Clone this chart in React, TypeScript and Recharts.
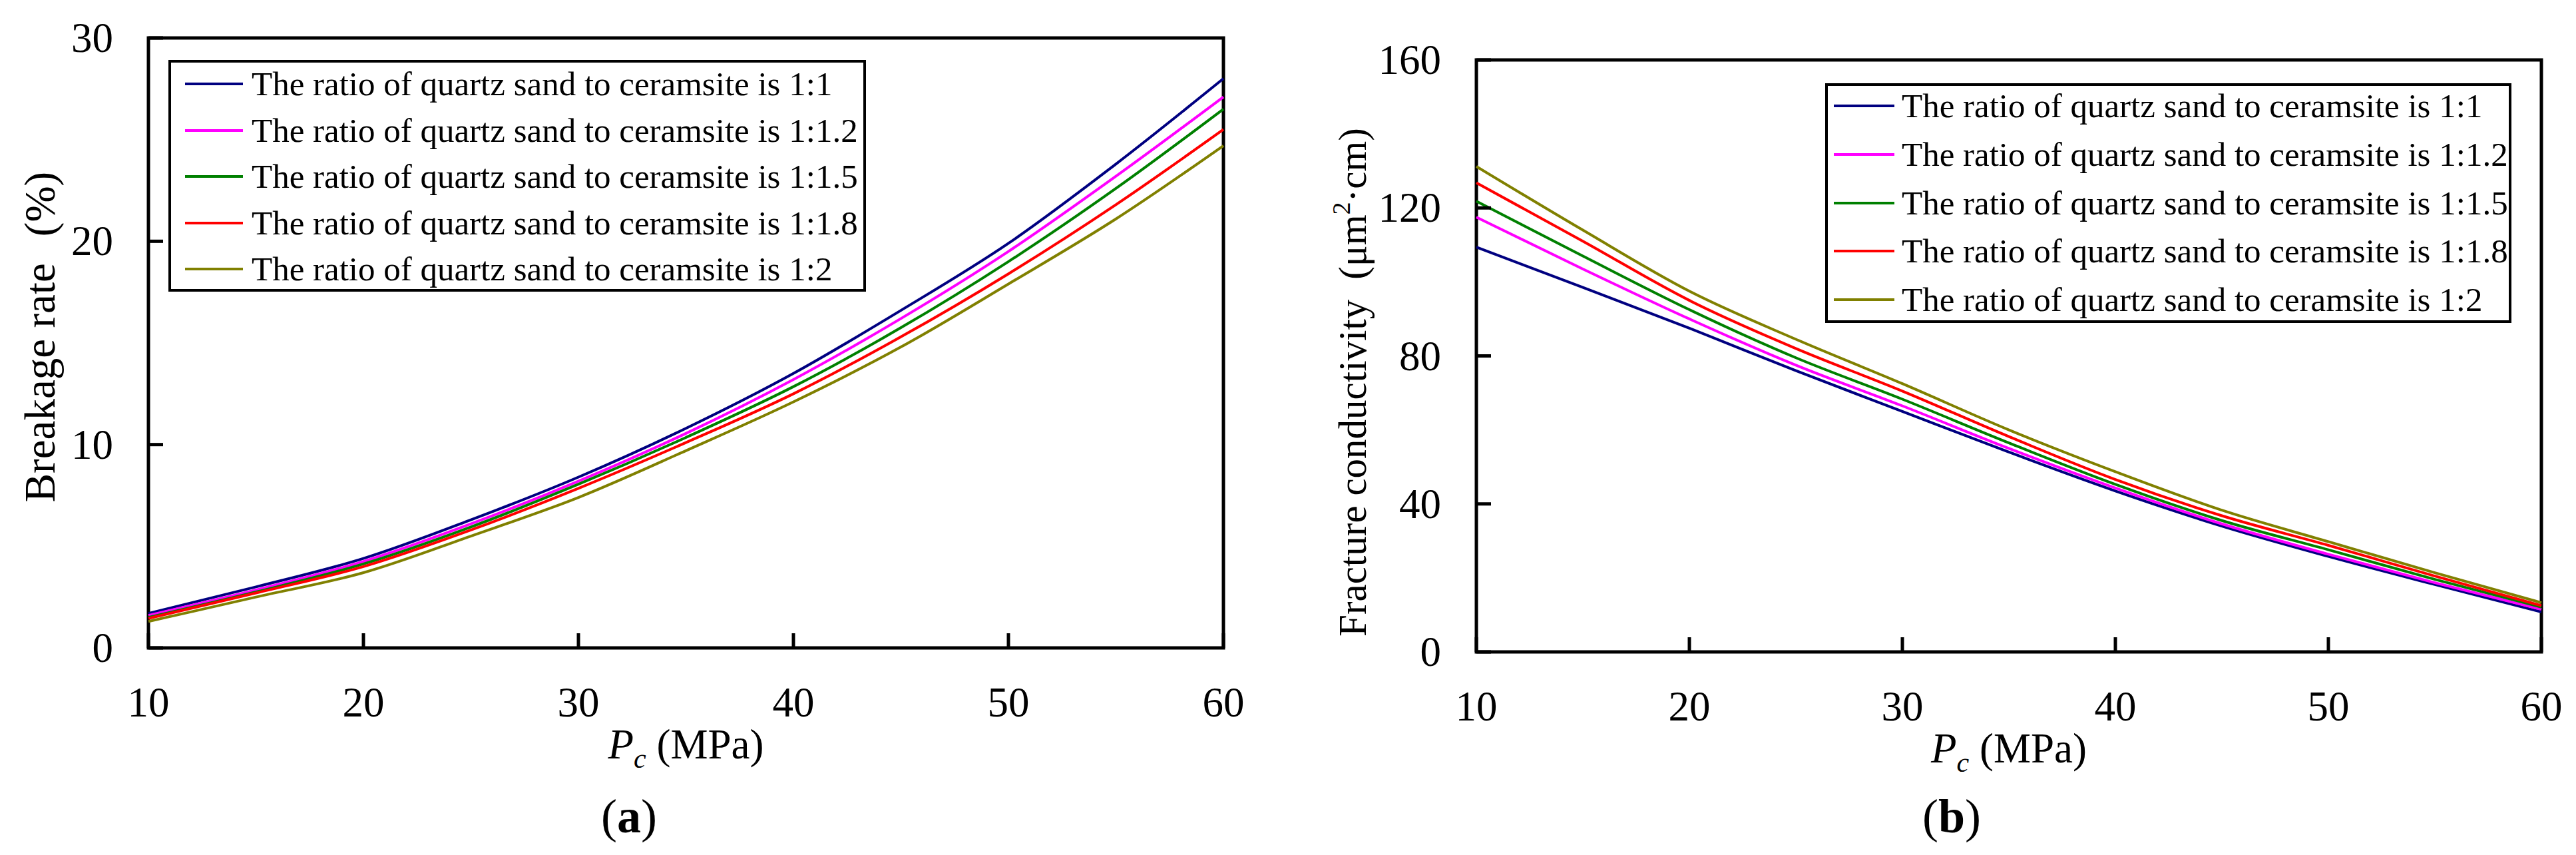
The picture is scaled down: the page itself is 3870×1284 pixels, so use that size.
import React from 'react'
import { LineChart, Line, XAxis, YAxis, Legend, ReferenceArea, Label } from 'recharts'

const FONT = "'Times New Roman', 'Liberation Serif', serif"
const PAGE_W = 3870
const PAGE_H = 1284

const PRESSURE = [10, 15, 20, 25, 30, 35, 40, 45, 50, 55, 60]
const PRESSURE_TICKS = [10, 20, 30, 40, 50, 60]
const BREAKAGE_TICKS = [0, 10, 20, 30]
const CONDUCTIVITY_TICKS = [0, 40, 80, 120, 160]

const RATIO_NAMES = [
  'The ratio of quartz sand to ceramsite is 1:1',
  'The ratio of quartz sand to ceramsite is 1:1.2',
  'The ratio of quartz sand to ceramsite is 1:1.5',
  'The ratio of quartz sand to ceramsite is 1:1.8',
  'The ratio of quartz sand to ceramsite is 1:2',
]
const RATIO_COLORS = ['#000080', '#ff00ff', '#008000', '#ff0000', '#808000']

// breakage rate (%) vs closure pressure
const BREAKAGE_1_1 = [1.7, 3.0, 4.4, 6.3, 8.4, 10.8, 13.5, 16.6, 19.9, 23.8, 28.0]
const BREAKAGE_1_12 = [1.6, 2.85, 4.25, 6.1, 8.2, 10.55, 13.2, 16.2, 19.5, 23.2, 27.1]
const BREAKAGE_1_15 = [1.5, 2.75, 4.13, 5.95, 8.05, 10.35, 12.85, 15.75, 19.0, 22.6, 26.5]
const BREAKAGE_1_18 = [1.45, 2.7, 4.0, 5.8, 7.85, 10.1, 12.5, 15.3, 18.4, 21.8, 25.5]
const BREAKAGE_1_2 = [1.3, 2.5, 3.7, 5.5, 7.4, 9.7, 12.1, 14.8, 17.9, 21.1, 24.7]

// fracture conductivity (μm²·cm) vs closure pressure
const COND_1_1 = [109.4, 98.5, 87.5, 76, 65, 54, 43.5, 34, 25.8, 18.2, 10.8]
const COND_1_12 = [117.5, 103.5, 90, 77.5, 66.5, 55, 44.3, 34.6, 26.4, 18.7, 11.5]
const COND_1_15 = [121.8, 107, 92.5, 79.5, 68.3, 56.5, 45.3, 35.5, 27.6, 19.6, 12.1]
const COND_1_18 = [126.8, 111, 95, 82, 70.5, 58.2, 46.6, 36.8, 28.8, 20.5, 12.5]
const COND_1_2 = [131.2, 114, 97.5, 84.5, 72.5, 60, 48.7, 38.3, 29.8, 21.4, 13.3]

const SERIES_KEYS = ['r1', 'r12', 'r15', 'r18', 'r2']

const breakageData = PRESSURE.map((p, i) => ({
  p,
  r1: BREAKAGE_1_1[i],
  r12: BREAKAGE_1_12[i],
  r15: BREAKAGE_1_15[i],
  r18: BREAKAGE_1_18[i],
  r2: BREAKAGE_1_2[i],
}))

const conductivityData = PRESSURE.map((p, i) => ({
  p,
  r1: COND_1_1[i],
  r12: COND_1_12[i],
  r15: COND_1_15[i],
  r18: COND_1_18[i],
  r2: COND_1_2[i],
}))

const Y_AXIS_W = 150
const X_AXIS_H = 100
const TICK_LEN = 22

const XTick = ({ x, y, payload }: any) => (
  <g>
    <line x1={x} x2={x} y1={y} y2={y - TICK_LEN} stroke="#000" strokeWidth={5} />
    <text x={x} y={y + 82} textAnchor="middle" dominantBaseline="central" fontFamily={FONT} fontSize={63} fill="#000">
      {payload.value}
    </text>
  </g>
)

const YTick = ({ x, y, payload }: any) => (
  <g>
    <line x1={x} x2={x + TICK_LEN} y1={y} y2={y} stroke="#000" strokeWidth={5} />
    <text x={x - 53} y={y} textAnchor="end" dominantBaseline="central" fontFamily={FONT} fontSize={63} fill="#000">
      {payload.value}
    </text>
  </g>
)

function makeLegend(opt: any) {
  return ({ payload }: any) => (
    <div
      style={{
        boxSizing: 'border-box',
        width: opt.w,
        height: opt.h,
        border: '4px solid #000',
        background: '#fff',
        display: 'flex',
        flexDirection: 'column',
        justifyContent: 'space-between',
        padding: `${opt.padTop}px 0 ${opt.padBottom}px 0`,
        overflow: 'visible',
      }}
    >
      {(payload ?? []).map((item: any) => (
        <div key={item.value} style={{ display: 'flex', alignItems: 'center', height: 50 }}>
          <div
            style={{
              flexShrink: 0,
              marginLeft: opt.lineLeft,
              width: opt.lineW,
              height: 4,
              background: item.color,
              marginRight: opt.gap,
            }}
          />
          <span style={{ flexShrink: 0, fontFamily: FONT, fontSize: 51, lineHeight: '50px', whiteSpace: 'nowrap', color: '#000' }}>
            {item.value}
          </span>
        </div>
      ))}
    </div>
  )
}

const BreakageTitle = () => (
  <>
    Breakage rate<tspan dx={40}>(%)</tspan>
  </>
)

const ConductivityTitle = () => (
  <>
    Fracture conductivity<tspan dx={30}>(μm</tspan>
    <tspan fontSize={38} dy={-24}>2</tspan>
    <tspan dy={24}>·cm)</tspan>
  </>
)

const PANELS = [
  {
    id: 'a',
    left: 0,
    width: 1900,
    plot: { left: 223, right: 1838, top: 57, bottom: 973 },
    data: breakageData,
    yDomain: [0, 30],
    yTicks: BREAKAGE_TICKS,
    YTitle: BreakageTitle,
    yTitleX: 82,
    yTitleY: 506,
    yTitleSize: 65,
    letterX: 945,
    legend: { x: 253, y: 90, w: 1048, h: 348, padTop: 7, padBottom: 5, lineLeft: 21, lineW: 87, gap: 13 },
  },
  {
    id: 'b',
    left: 1900,
    width: 1970,
    plot: { left: 318, right: 1918, top: 90, bottom: 979 },
    data: conductivityData,
    yDomain: [0, 160],
    yTicks: CONDUCTIVITY_TICKS,
    YTitle: ConductivityTitle,
    yTitleX: 152,
    yTitleY: 574,
    yTitleSize: 59,
    letterX: 1032,
    legend: { x: 842, y: 125, w: 1031, h: 360, padTop: 5, padBottom: 6, lineLeft: 9, lineW: 91, gap: 11 },
  },
]

function Panel({ cfg }: any) {
  const { plot, YTitle } = cfg
  const margin = {
    top: plot.top,
    left: plot.left - Y_AXIS_W,
    right: cfg.width - plot.right,
    bottom: PAGE_H - plot.bottom - X_AXIS_H,
  }
  const cx = (plot.left + plot.right) / 2

  const xTitle = () => (
    <g>
      <text x={cx} y={plot.bottom + 166} textAnchor="middle" fontFamily={FONT} fontSize={63} fill="#000">
        <tspan fontStyle="italic">P</tspan>
        <tspan fontStyle="italic" fontSize={42} dy={14}>c</tspan>
        <tspan dy={-14}> (MPa)</tspan>
      </text>
      <text x={cfg.letterX} y={1250} textAnchor="middle" fontFamily={FONT} fontSize={72} fill="#000">
        (<tspan fontWeight="bold">{cfg.id}</tspan>)
      </text>
    </g>
  )

  const yTitle = () => (
    <text
      x={cfg.yTitleX}
      y={cfg.yTitleY}
      transform={`rotate(-90, ${cfg.yTitleX}, ${cfg.yTitleY})`}
      textAnchor="middle"
      fontFamily={FONT}
      fontSize={cfg.yTitleSize}
      fill="#000"
    >
      <YTitle />
    </text>
  )

  return (
    <div style={{ position: 'absolute', left: cfg.left, top: 0 }}>
      <LineChart width={cfg.width} height={PAGE_H} data={cfg.data} margin={margin}>
        <XAxis
          type="number"
          dataKey="p"
          domain={[10, 60]}
          ticks={PRESSURE_TICKS}
          interval={0}
          axisLine={false}
          tickLine={false}
          tickSize={0}
          tickMargin={0}
          height={X_AXIS_H}
          tick={<XTick />}
        >
          <Label content={xTitle} />
        </XAxis>
        <YAxis
          type="number"
          domain={cfg.yDomain}
          ticks={cfg.yTicks}
          interval={0}
          axisLine={false}
          tickLine={false}
          tickSize={0}
          tickMargin={0}
          width={Y_AXIS_W}
          tick={<YTick />}
        >
          <Label content={yTitle} />
        </YAxis>
        <ReferenceArea
          x1={10}
          x2={60}
          y1={cfg.yDomain[0]}
          y2={cfg.yDomain[1]}
          fill="none"
          stroke="#000"
          strokeWidth={5}
        />
        {SERIES_KEYS.map((k, i) => (
          <Line
            key={k}
            type="monotone"
            dataKey={k}
            name={RATIO_NAMES[i]}
            stroke={RATIO_COLORS[i]}
            strokeWidth={4}
            dot={false}
            activeDot={false}
            isAnimationActive={false}
          />
        ))}
        <Legend
          layout="horizontal"
          verticalAlign="middle"
          align="center"
          wrapperStyle={{
            left: cfg.legend.x,
            top: cfg.legend.y,
            width: cfg.legend.w,
            height: cfg.legend.h,
            right: 'auto',
            bottom: 'auto',
          }}
          content={makeLegend(cfg.legend)}
        />
      </LineChart>
    </div>
  )
}

export default function App() {
  return (
    <div style={{ position: 'absolute', left: 0, top: 0, width: PAGE_W, height: PAGE_H, background: '#fff', overflow: 'hidden' }}>
      {PANELS.map((cfg) => (
        <Panel key={cfg.id} cfg={cfg} />
      ))}
    </div>
  )
}
